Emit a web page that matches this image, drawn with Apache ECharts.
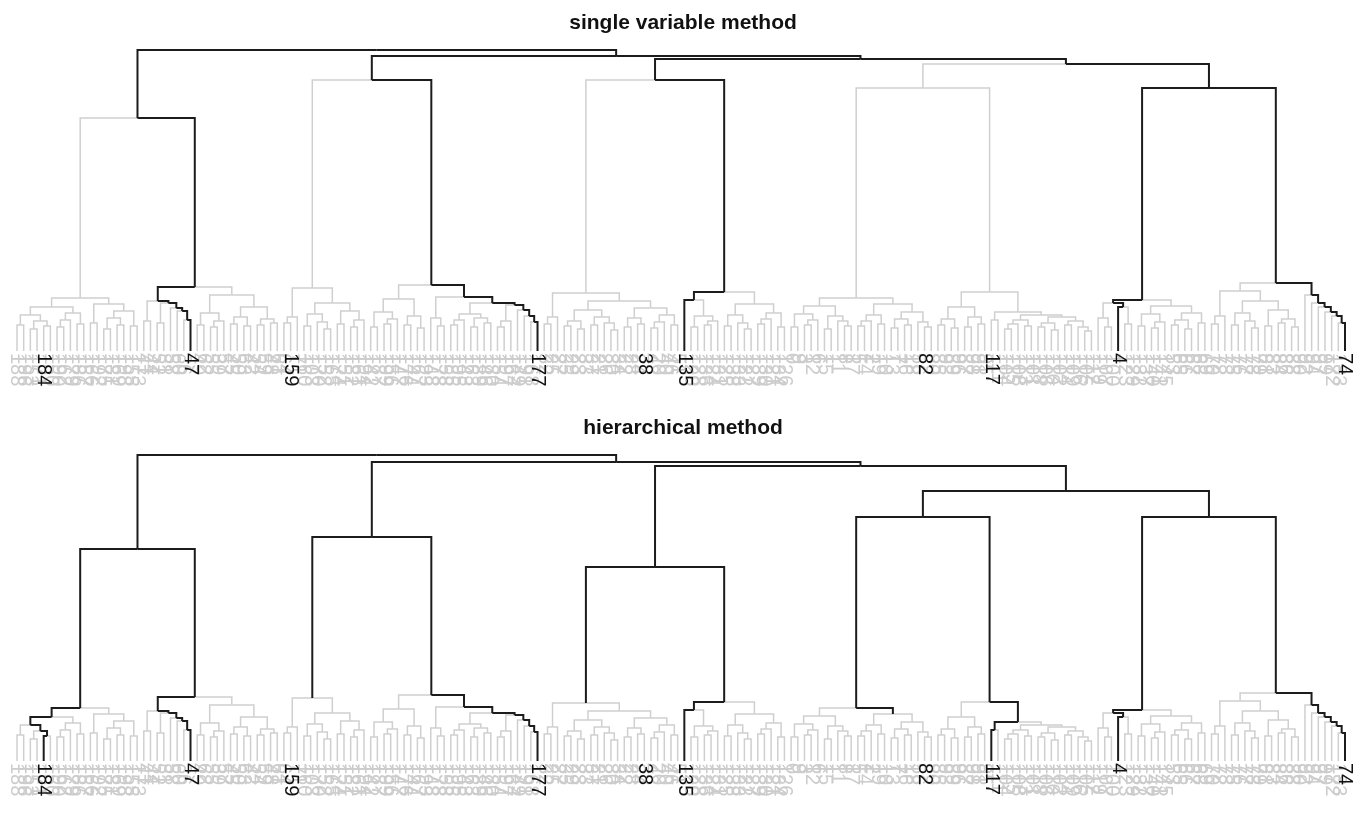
<!DOCTYPE html>
<html><head><meta charset="utf-8">
<script src="https://cdn.jsdelivr.net/npm/echarts@6/dist/echarts.min.js"></script>
<style>html,body{margin:0;padding:0;background:#fff}#c{width:1366px;height:821px}</style>
</head><body><div id="c"></div>
<script>
// ---------------- DATA ----------------
const titles = ['single variable method', 'hierarchical method'];

// leaf labels in dendrogram order (left to right)
const leafLabels = [
 188,196,153,171,184,150,190,162,179,186,
 157,166,192,175,181,169,198,155,173,41,
 44,52,31,58,60,36,47,49,62,55,
 39,57,45,50,63,42,54,59,48,61,
 64,159,71,160,103,170,152,165,174,151,
 182,161,194,142,187,199,156,147,176,144,
 167,193,148,178,158,185,195,143,163,189,
 146,180,154,197,164,149,191,168,177,32,
 25,27,35,29,23,33,37,21,26,30,
 34,22,28,24,38,43,20,40,46,51,
 135,120,128,136,124,131,125,138,133,122,
 127,139,130,121,134,126,0,9,3,12,
 6,15,1,11,8,17,5,14,2,19,
 10,13,7,16,18,56,82,80,85,93,
 89,96,87,98,91,95,117,111,104,115,
 108,113,101,118,106,110,102,114,109,116,
 105,112,119,107,100,4,123,129,132,137,
 140,141,145,53,65,66,67,68,69,70,
 72,73,75,76,77,78,79,81,83,84,
 86,88,90,92,94,97,99,172,183,74
];

// labels printed in black
const blackLabels = [184,47,159,177,38,135,82,117,4,74];

// cluster subtrees (shared by both methods): '#' = next leaf, ':h' = merge height
const C1L = "((((#,#):26,((#,#):22,(#,#):25):30):36,(((#,#):24,#):31,(#,#):27):38):44,((#,#):28,(((#,#):22,(#,#):26):33,(#,#):25):40):47):53";
const C1R = "(((#,#):30,((#,#):28,(#,(#,(#,#):31):40):43):48):50,(((#,#):26,((#,#):24,#):30):38,(((#,#):27,(#,#):25):34,((#,#):26,(#,#):28):32):44):56):64";
const C2L = "(((#,#):28,#):34,(((#,#):25,(#,(#,#):22):29):37,((#,#):27,((#,#):24,#):31):40):48):63";
const C2R = "((((#,#):24,((#,#):27,#):32):39,((#,#):26,(#,#):23):35):52,((#,(#,#):25):33,((((#,#):26,#):31,((#,#):24,(#,#):28):33):37,(((#,#):24,#):30,(#,(#,(#,#):29):35):41):46):48):54):66";
const C3L = "(((#,#):27,#):34,((((#,#):25,(#,#):22):30,((#,#):26,(#,(#,#):21):28):34):41,(((#,#):24,(#,#):27):33,(((#,#):23,#):29,(#,#):26):36):43):50):58";
const C3R = "((#,((#,#):24,((#,#):26,#):30):35):51,(((#,#):25,(#,(#,#):22):28):36,(((#,#):27,#):32,(#,#):24):38):47):59";
const C4L = "((((#,#):24,((#,#):26,#):31):37,((#,#):22,(#,(#,#):25):30):35):45,((((#,#):25,#):30,(#,#):27):36,(((#,#):23,(#,#):26):32,(#,(#,#):24):29):39):47):53";
const C4R = "((((#,#):26,(#,#):23):32,((#,#):24,(#,#):27):34):44,((#,#):31,((((#,#):22,#):27,(#,#):25):31,(((#,#):24,(#,#):21):28,((#,#):26,(#,(#,#):20):24):30):34):36):39):59";
const C5L = "(((#,(#,#):24):33,(#,(#,#):27):44):48,(((#,#):25,((#,#):23,#):29):37,(((#,#):26,(#,#):22):31,(#,#):28):38):45):51";
const C5R = "((((#,#):27,#):35,(((#,#):26,(#,(#,#):23):30):38,((#,#):25,((#,#):28,(#,#):24):32):41):50):60,(#,(#,(#,(#,(#,(#,#):28):35):39):44):48):56):68";

// upper levels of the tree
const upperShape = "(({C1L},{C1R}):{hC1},(({C2L},{C2R}):{hC2},(({C3L},{C3R}):{hC3},(({C4L},{C4R}):{hC4},({C5L},{C5R}):{hC5}):{hR3}):{hR2}):{hR1}):{hRoot}";
const upperNames = ['hRoot','hR1','hR2','hR3','hC1','hC2','hC3','hC4','hC5'];
const upperHeightsTop    = [301,295,292,287,233,271,271,263,263];
const upperHeightsBottom = [306,299,295,270,212,224,194,244,244];

// highlighted (black) branches: [leaf label, lowest node height kept black]
const highlightTop    = [[47,0],[177,0],[135,0],[4,0],[74,0]];
const highlightBottom = [[184,0],[47,0],[159,60],[177,0],[38,55],[135,0],[82,45],[117,0],[4,0],[74,0]];

// ---------------- BUILD ----------------
const subtrees = {C1L,C1R,C2L,C2R,C3L,C3R,C4L,C4R,C5L,C5R};

function fillShape(heights){
  const lookup = Object.assign({}, subtrees);
  upperNames.forEach((n,i)=>{ lookup[n] = String(heights[i]); });
  return upperShape.replace(/\{(\w+)\}/g, (m,k)=>lookup[k]);
}

function parseTree(s){
  let p = 0, n = 0;
  function num(){ const st = p; while (p < s.length && /[0-9.]/.test(s[p])) p++; return parseFloat(s.slice(st,p)); }
  function node(){
    if (s[p] === '#'){ p++; return {leaf:n++, h:0}; }
    if (s[p] !== '(') throw new Error('bad char ' + s[p] + ' at ' + p);
    p++;
    const a = node();
    if (s[p++] !== ',') throw new Error('expected , at ' + (p-1));
    const b = node();
    if (s[p++] !== ')') throw new Error('expected ) at ' + (p-1));
    if (s[p++] !== ':') throw new Error('expected : at ' + (p-1));
    const h = num();
    return {kids:[a,b], h:h};
  }
  const root = node();
  if (n !== leafLabels.length) throw new Error('leaf count ' + n);
  return root;
}

function annotate(nd){
  if (nd.kids){
    nd.kids.forEach(annotate);
    nd.x = (nd.kids[0].x + nd.kids[1].x) / 2;
    nd.labels = nd.kids[0].labels.concat(nd.kids[1].labels);
  } else {
    nd.x = nd.leaf;
    nd.labels = [leafLabels[nd.leaf]];
  }
}

function collectEdges(nd, hl, gray, black){
  if (!nd.kids) return;
  nd.kids.forEach(c=>{
    const coords = [[c.x, c.h],[c.x, nd.h],[nd.x, nd.h]];
    const isBlack = hl.some(([lab,minH]) => c.h >= minH && c.labels.indexOf(lab) >= 0);
    (isBlack ? black : gray).push({coords: coords});
    collectEdges(c, hl, gray, black);
  });
}

const panels = [
  {title: titles[0], heights: upperHeightsTop, hl: highlightTop, baseline: 351, titleTop: 8},
  {title: titles[1], heights: upperHeightsBottom, hl: highlightBottom, baseline: 761, titleTop: 413}
];

const blackSet = new Set(blackLabels);
const catData = leafLabels.map(String);
const GRAY = '#cfcfcf', BLACK = '#1c1c1c';

const option = {
  animation: false,
  backgroundColor: '#ffffff',
  title: [], grid: [], xAxis: [], yAxis: [], series: []
};

panels.forEach((pn, i)=>{
  const root = parseTree(fillShape(pn.heights));
  annotate(root);
  const gray = [], black = [];
  collectEdges(root, pn.hl, gray, black);
  const hmax = root.h;
  option.title.push({
    text: pn.title, left: 'center', top: pn.titleTop,
    textStyle: {fontFamily: 'Liberation Sans, Arial, sans-serif', fontSize: 21, fontWeight: 'bold', color: '#111'}
  });
  option.grid.push({left: 17, width: 1328, top: pn.baseline - hmax, height: hmax, containLabel: false});
  option.yAxis.push({type: 'value', gridIndex: i, min: 0, max: hmax, show: false});
  option.xAxis.push({type: 'value', gridIndex: i, min: 0, max: leafLabels.length - 1, show: false});
  const mkCat = (isBlack)=>({
    type: 'category', gridIndex: i, data: catData, boundaryGap: false, position: 'bottom',
    axisLine: {show: false}, axisTick: {show: false}, splitLine: {show: false},
    z: isBlack ? 3 : 1,
    axisLabel: {
      interval: 0, rotate: -90, margin: 2, hideOverlap: false,
      fontFamily: 'Liberation Sans, Arial, sans-serif', fontSize: 20,
      color: isBlack ? '#111' : '#cccccc',
      formatter: v => (blackSet.has(+v) === isBlack ? v : '')
    }
  });
  option.xAxis.push(mkCat(false));
  option.xAxis.push(mkCat(true));
  const xi = i * 3;
  option.series.push({
    type: 'lines', coordinateSystem: 'cartesian2d', xAxisIndex: xi, yAxisIndex: i,
    polyline: true, silent: true, z: 2, data: gray,
    lineStyle: {color: GRAY, width: 1.5, opacity: 1}
  });
  option.series.push({
    type: 'lines', coordinateSystem: 'cartesian2d', xAxisIndex: xi, yAxisIndex: i,
    polyline: true, silent: true, z: 3, data: black,
    lineStyle: {color: BLACK, width: 2, opacity: 1}
  });
});

const chart = echarts.init(document.getElementById('c'), null, {renderer: 'canvas'});
chart.setOption(option);
</script>
</body></html>
